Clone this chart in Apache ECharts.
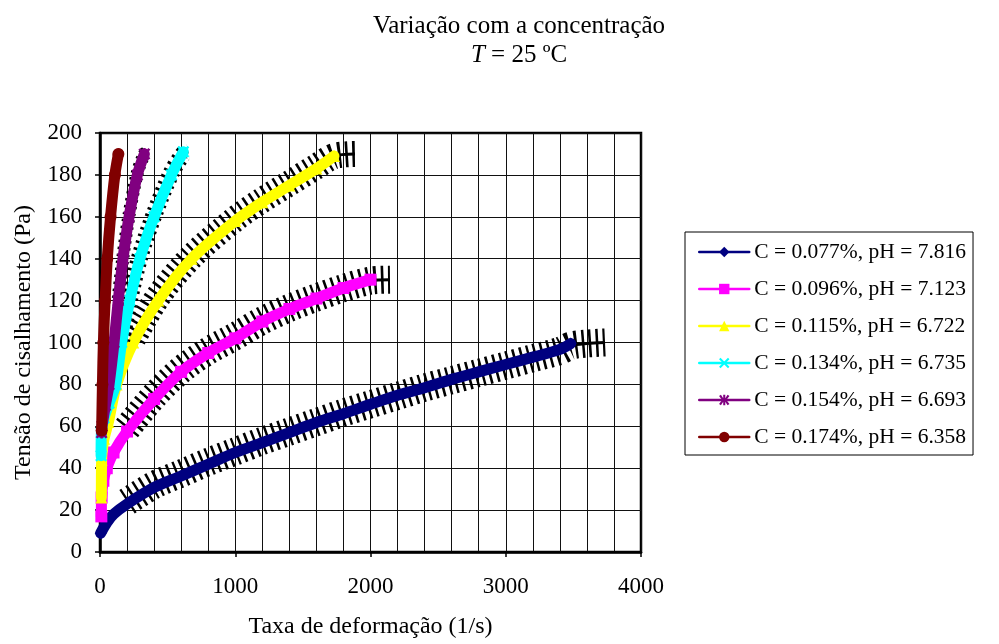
<!DOCTYPE html>
<html>
<head>
<meta charset="utf-8">
<script src="https://cdn.jsdelivr.net/npm/echarts@6/dist/echarts.min.js"></script>
<style>
  html, body { margin: 0; padding: 0; background: #fff; }
  #chart { width: 999px; height: 644px; }
</style>
</head>
<body>
<div id="chart"></div>
<script>
// Shear stress (Pa) vs shear rate (1/s) for six polymer concentrations at 25 ºC.
// Measured points (coloured) and fitted curves (black, ticked).

const seriesNames = [
  'C = 0.077%, pH = 7.816',
  'C = 0.096%, pH = 7.123',
  'C = 0.115%, pH = 6.722',
  'C = 0.134%, pH = 6.735',
  'C = 0.154%, pH = 6.693',
  'C = 0.174%, pH = 6.358'
];
const seriesColors = ['#000080', '#FF00FF', '#FFFF00', '#00FFFF', '#800080', '#800000'];

// Measured data
const rateC077   = [5, 50, 100, 200, 400, 600, 800, 1000, 1200, 1400, 1600, 1800, 2000, 2200, 2400, 2600, 2800, 3000, 3200, 3400, 3480];
const stressC077 = [9, 14, 18, 22.9, 30.8, 36.3, 41.9, 47.5, 52.2, 57, 61.8, 66, 70.5, 74.8, 78.4, 82.4, 86, 89.5, 93, 96.7, 99.5];

const rateC096   = [10, 12, 25, 50, 100, 200, 400, 600, 800, 1000, 1200, 1400, 1600, 1800, 2000];
const stressC096 = [17, 26, 34, 40, 47.5, 57.5, 73, 86, 95, 102, 110, 116, 121, 126, 130];

const rateC115   = [10, 12, 30, 62, 123, 246, 431, 678, 1000, 1200, 1400, 1600, 1730];
const stressC115 = [26, 44, 54, 62, 80, 100, 120, 140, 158, 167, 175, 183, 189];

const rateC134   = [8, 10, 30, 67, 116, 160, 220, 295, 400, 528, 616];
const stressC134 = [46, 57, 64, 71, 80, 100, 120, 140, 160, 180, 191];

const rateC154   = [12, 15, 40, 67, 104, 135, 170, 215, 276, 328];
const stressC154 = [57, 60, 70, 80, 100, 120, 140, 160, 180, 190];

const rateC174   = [12, 18, 25, 38, 54, 78, 110, 136];
const stressC174 = [58, 80, 100, 120, 140, 160, 180, 190];

// Fitted curves
const fitRateC077   = [0, 100, 200, 400, 600, 800, 1000, 1200, 1400, 1600, 1800, 2000, 2200, 2400, 2600, 2800, 3000, 3200, 3400, 3480, 3600, 3734];
const fitStressC077 = [9, 19, 24, 32, 37.5, 43, 48, 53, 57.5, 62, 66.5, 70.5, 74.5, 78.5, 82, 85.5, 89, 92.5, 96, 98.5, 99.5, 100];

const fitRateC096   = [8, 25, 50, 100, 200, 400, 600, 800, 1000, 1200, 1400, 1600, 1800, 2000, 2144];
const fitStressC096 = [20, 35, 41, 49, 59, 74.5, 87, 96, 103, 110.5, 116.5, 121.5, 126, 129.5, 130];

const fitRateC115   = [8, 30, 62, 123, 246, 431, 678, 1000, 1200, 1400, 1600, 1730, 1885];
const fitStressC115 = [40, 56, 65, 83, 102, 122, 141, 159, 168, 176, 184, 189, 190];

const fitRateC134   = [8, 30, 67, 116, 160, 220, 295, 400, 528, 616, 653];
const fitStressC134 = [50, 65, 72, 81, 101, 121, 141, 161, 181, 190, 191];

const fitRateC154   = [12, 40, 67, 104, 135, 170, 215, 276, 328, 345];
const fitStressC154 = [58, 71, 81, 101, 121, 141, 161, 181, 190, 191];

const fitRateC174   = [12, 18, 25, 38, 54, 78, 110, 136, 145];
const fitStressC174 = [58, 80, 100, 120, 140, 160, 180, 190, 191];

// Axis ticks
const xTicks = [0, 1000, 2000, 3000, 4000];
const yTicks = [0, 20, 40, 60, 80, 100, 120, 140, 160, 180, 200];

const dataSets = [
  [rateC077, stressC077, fitRateC077, fitStressC077],
  [rateC096, stressC096, fitRateC096, fitStressC096],
  [rateC115, stressC115, fitRateC115, fitStressC115],
  [rateC134, stressC134, fitRateC134, fitStressC134],
  [rateC154, stressC154, fitRateC154, fitStressC154],
  [rateC174, stressC174, fitRateC174, fitStressC174]
];

// Stroke width of the tick band for each fit, and the first fit point that carries ticks
const tickWidths = [28, 28, 26, 17, 13, 0];
const tickFrom   = [2, 4, 4, 4, 4, 0];

const starPath = 'path://M4,0 L6,0 L6,3.3 L8.2,0 L10,1.2 L7,5 L10,8.8 L8.2,10 L6,6.7 L6,10 L4,10 L4,6.7 L1.8,10 L0,8.8 L3,5 L0,1.2 L1.8,0 L4,3.3 Z';
const crossPath = 'path://M0,1.4 L1.4,0 L5,3.6 L8.6,0 L10,1.4 L6.4,5 L10,8.6 L8.6,10 L5,6.4 L1.4,10 L0,8.6 L3.6,5 Z';
const markers = ['diamond', 'rect', 'triangle', crossPath, starPath, 'circle'];

const zip = (xs, ys) => xs.map((x, i) => [x, ys[i]]);
const FONT = '"Liberation Serif", "Times New Roman", serif';
const SMOOTH = 0.3;

const series = [];
dataSets.forEach((set, i) => {
  const fit = zip(set[2], set[3]);
  if (tickWidths[i] > 0) {
    // ticked fit: a wide dashed stroke gives the short cross strokes
    series.push({
      type: 'line', name: 'fit' + i, data: fit.slice(tickFrom[i]), showSymbol: false, silent: true, clip: false,
      smooth: SMOOTH,
      lineStyle: { color: '#000', width: tickWidths[i], type: [2.5, 4.5], cap: 'butt' },
      z: 2 + i * 3
    });
  }
  series.push({
    type: 'line', name: 'fitline' + i, data: fit, showSymbol: false, silent: true, clip: false,
    smooth: SMOOTH,
    lineStyle: { color: '#000', width: 3 },
    z: 3 + i * 3
  });
  series.push({
    type: 'line', name: seriesNames[i], data: zip(set[0], set[1]),
    symbol: markers[i], symbolSize: 12, showSymbol: true, clip: false,
    smooth: SMOOTH,
    itemStyle: { color: seriesColors[i] },
    lineStyle: { color: seriesColors[i], width: 11, cap: 'round', join: 'round' },
    z: 4 + i * 3
  });
});

const chart = echarts.init(document.getElementById('chart'), null, { renderer: 'canvas' });
chart.setOption({
  backgroundColor: '#fff',
  animation: false,
  textStyle: { fontFamily: FONT, color: '#000' },
  graphic: [
    { type: 'text', x: 519, y: 14, style: { text: 'Variação com a concentração', font: '25px ' + FONT, fill: '#000', textAlign: 'center' } },
    { type: 'text', x: 519, y: 43, style: {
        text: '{i|T} = 25 ºC', font: '25px ' + FONT, fill: '#000', textAlign: 'center',
        rich: { i: { fontStyle: 'italic', fontSize: 25, fontFamily: FONT } } } }
  ],
  grid: { left: 100, right: 358, top: 133, bottom: 91, show: true, borderColor: '#000', borderWidth: 2.5, backgroundColor: 'transparent' },
  legend: {
    data: seriesNames, orient: 'vertical', left: 685, top: 232,
    padding: [7, 7, 5, 13], itemGap: 11, itemWidth: 50, itemHeight: 13,
    borderColor: '#000', borderWidth: 1,
    textStyle: { fontFamily: FONT, fontSize: 21.5, color: '#000', lineHeight: 26 },
    lineStyle: { width: 2.5 }
  },
  xAxis: {
    type: 'value', min: xTicks[0], max: xTicks[xTicks.length - 1], interval: 1000,
    name: 'Taxa de deformação (1/s)', nameLocation: 'middle', nameGap: 63,
    nameTextStyle: { fontFamily: FONT, fontSize: 24, color: '#000' },
    axisLine: { lineStyle: { color: '#000', width: 2.5 } },
    axisTick: { show: true, length: 5, lineStyle: { color: '#000', width: 1.5 } },
    axisLabel: { fontFamily: FONT, fontSize: 23, color: '#000', margin: 23, formatter: v => String(v) },
    splitLine: { show: true, lineStyle: { color: '#111', width: 1 } },
    minorTick: { show: false, splitNumber: 5 },
    minorSplitLine: { show: true, lineStyle: { color: '#111', width: 1 } }
  },
  yAxis: {
    type: 'value', min: yTicks[0], max: yTicks[yTicks.length - 1], interval: 20,
    name: 'Tensão de cisalhamento (Pa)', nameLocation: 'middle', nameGap: 64,
    nameTextStyle: { fontFamily: FONT, fontSize: 24, color: '#000' },
    axisLine: { lineStyle: { color: '#000', width: 2.5 } },
    axisTick: { show: true, length: 5, lineStyle: { color: '#000', width: 1.5 } },
    axisLabel: { fontFamily: FONT, fontSize: 23, color: '#000', margin: 18 },
    splitLine: { show: true, lineStyle: { color: '#111', width: 1 } }
  },
  series: series
});
</script>
</body>
</html>
